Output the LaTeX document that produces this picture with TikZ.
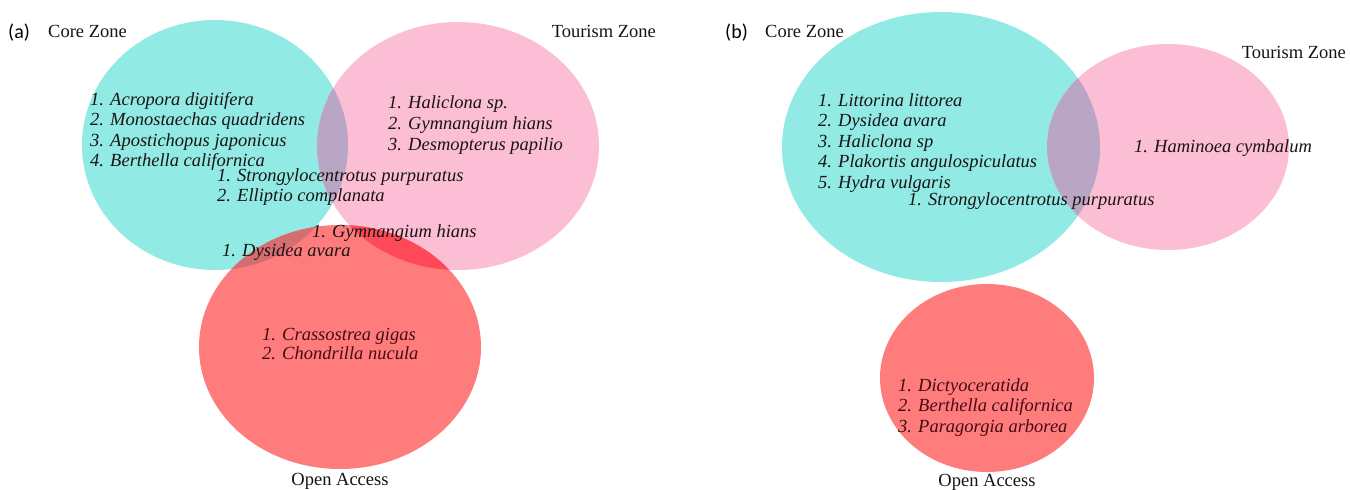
\documentclass[tikz,border=0pt]{standalone}
\usepackage{fontspec}
\setmainfont{Liberation Serif}
\newfontfamily\lblfont{Carlito}
\definecolor{cyanz}{RGB}{146,234,229}
\definecolor{pinkz}{RGB}{252,190,212}
\definecolor{redz}{RGB}{254,124,124}
\definecolor{cyanpink}{RGB}{185,166,196}
\definecolor{redpink}{RGB}{255,72,88}
\definecolor{redcyan}{RGB}{212,110,112}
\definecolor{redall}{RGB}{214,78,92}
\definecolor{txt}{RGB}{25,20,20}
\definecolor{txtred}{RGB}{70,10,20}
\begin{document}
\begin{tikzpicture}[x=1pt,y=-1pt,
  itm/.style={anchor=base west,inner sep=0pt,text=txt,font=\fontsize{18.5}{20.5}\selectfont\itshape},
  itmr/.style={itm,text=txtred},
  zlab/.style={inner sep=0pt,text=txt,font=\fontsize{18.5}{20}\selectfont},
  plab/.style={anchor=base west,inner sep=0pt,text=black,font=\lblfont\fontsize{20}{22}\selectfont}]
\useasboundingbox[fill=white] (0,0) rectangle (1350,490);
% ---------- panel (a) ----------
\def\coreA{(215,145) ellipse [x radius=133, y radius=125]}
\def\tourA{(458,146) ellipse [x radius=141, y radius=124]}
\def\openA{(340,347) ellipse [x radius=141, y radius=122]}
\fill[cyanz] \coreA;
\fill[pinkz] \tourA;
\fill[redz] \openA;
\begin{scope}\clip \coreA; \fill[cyanpink] \tourA; \end{scope}
\begin{scope}\clip \openA; \fill[redcyan] \coreA; \end{scope}
\begin{scope}\clip \openA; \fill[redpink] \tourA; \end{scope}
\begin{scope}\clip \openA; \clip \coreA; \fill[redall] \tourA; \end{scope}
\node[plab] (pa) at (8,38) {(a)};
\node[zlab,anchor=base west] (coreAl) at (48,37) {Core Zone};
\node[zlab,anchor=base east] (tourAl) at (656,37) {Tourism Zone};
\node[zlab,anchor=base] (openAl) at (340,485) {Open Access};
\node[itm] (a1) at (90,105) {1. Acropora digitifera};
\node[itm] (a2) at (90,125.5) {2. Monostaechas quadridens};
\node[itm] (a3) at (90,146) {3. Apostichopus japonicus};
\node[itm] (a4) at (90,166.5) {4. Berthella californica};
\node[itm] (t1) at (388,108) {1. Haliclona sp.};
\node[itm] (t2) at (388,129) {2. Gymnangium hians};
\node[itm] (t3) at (388,150) {3. Desmopterus papilio};
\node[itm] (c1) at (217,181) {1. Strongylocentrotus purpuratus};
\node[itm] (c2) at (217,201) {2. Elliptio complanata};
\node[itm] (g1) at (312,237) {1. Gymnangium hians};
\node[itm] (d1) at (222,256) {1. Dysidea avara};
\node[itmr] (o1) at (262,340) {1. Crassostrea gigas};
\node[itmr] (o2) at (262,359.5) {2. Chondrilla nucula};
% ---------- panel (b) ----------
\def\coreB{(941,147) ellipse [x radius=159, y radius=135]}
\def\tourB{(1168,147) ellipse [x radius=121, y radius=103]}
\def\openB{(987,378) ellipse [x radius=107, y radius=94]}
\fill[cyanz] \coreB;
\fill[pinkz] \tourB;
\fill[redz] \openB;
\begin{scope}\clip \coreB; \fill[cyanpink] \tourB; \end{scope}
\node[plab] (pb) at (725,38) {(b)};
\node[zlab,anchor=base west] (coreBl) at (765,37) {Core Zone};
\node[zlab,anchor=base east] (tourBl) at (1346,58) {Tourism Zone};
\node[zlab,anchor=base] (openBl) at (987,486) {Open Access};
\node[itm] (b1) at (818,106) {1. Littorina littorea};
\node[itm] (b2) at (818,126.5) {2. Dysidea avara};
\node[itm] (b3) at (818,147) {3. Haliclona sp};
\node[itm] (b4) at (818,167.5) {4. Plakortis angulospiculatus};
\node[itm] (b5) at (818,188) {5. Hydra vulgaris};
\node[itm] (h1) at (1134,152) {1. Haminoea cymbalum};
\node[itm] (s1) at (908,205) {1. Strongylocentrotus purpuratus};
\node[itmr] (r1) at (898,391) {1. Dictyoceratida};
\node[itmr] (r2) at (898,411.5) {2. Berthella californica};
\node[itmr] (r3) at (898,432) {3. Paragorgia arborea};
\end{tikzpicture}
\end{document}
